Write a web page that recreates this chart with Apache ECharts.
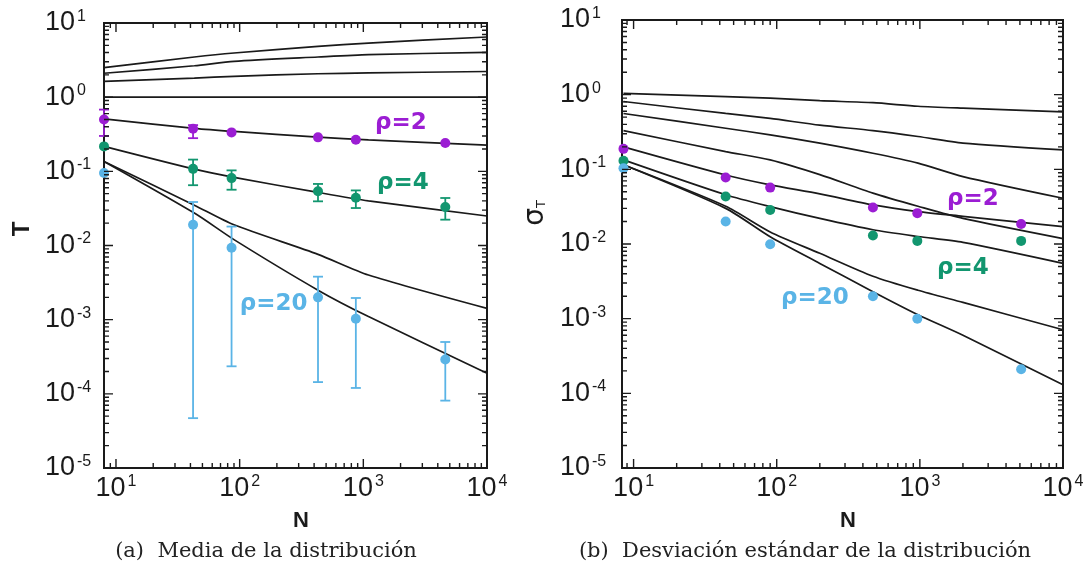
<!DOCTYPE html>
<html>
<head>
<meta charset="utf-8">
<script src="https://cdn.jsdelivr.net/npm/echarts@6.0.0/dist/echarts.min.js"></script>
<style>
  html, body { margin: 0; padding: 0; background: #fff; }
  #chart { width: 1089px; height: 571px; }
</style>
</head>
<body>
<div id="chart"></div>
<script>
// ---- (a) Media de la distribucion: T vs N ----
const nA = [8, 42, 86, 430, 870, 4600];
const meanRho2 = [0.50, 0.376, 0.335, 0.287, 0.267, 0.241];
const meanRho4 = [0.217, 0.108, 0.081, 0.054, 0.044, 0.033];
const meanRho20 = [0.095, 0.019, 0.0093, 0.0020, 0.00103, 0.00029];
// error bars (null = hidden under the dot)
const errLoRho2 = [0.30, 0.28, null, null, null, null];
const errHiRho2 = [0.68, 0.42, null, null, null, null];
const errLoRho4 = [null, 0.065, 0.0565, 0.0394, 0.032, 0.0223];
const errHiRho4 = [null, 0.144, 0.103, 0.0676, 0.0553, 0.0437];
const errLoRho20 = [null, 4.7e-5, 2.35e-4, 1.44e-4, 1.2e-4, 8.1e-5];
const errHiRho20 = [null, 0.0386, 0.018, 0.0038, 0.00196, 5.0e-4];
// theory curves (a)
const nCurveA = [8, 43, 90, 430, 1100, 10000];
const curvesA = [
  [2.5, 3.48, 3.94, 4.84, 5.37, 6.47],
  [2.1, 2.65, 3.04, 3.48, 3.74, 4.02],
  [1.63, 1.81, 1.91, 2.07, 2.12, 2.22],
  [1, 1, 1, 1, 1, 1],
  [0.51, 0.38, 0.345, 0.29, 0.265, 0.225],
  [0.217, 0.107, 0.083, 0.052, 0.040, 0.025],
  [0.136, 0.035, 0.019, 0.0076, 0.0040, 0.00142],
  [0.136, 0.0274, 0.012, 0.0025, 0.0011, 0.00019]
];

// ---- (b) Desviacion estandar: sigma_T vs N ----
const nB = [8.5, 44, 90, 470, 960, 5100];
const sdRho2 = [0.188, 0.0776, 0.0569, 0.0308, 0.0259, 0.0185];
const sdRho4 = [0.130, 0.0432, 0.0286, 0.0130, 0.0110, 0.0110];
const sdRho20 = [0.1035, 0.020, 0.0099, 0.0020, 0.0010, 0.00021];
const nCurveB = [8.5, 44, 90, 200, 470, 970, 2000, 10000];
const curvesB = [
  [1.04, 0.94, 0.90, 0.83, 0.78, 0.70, 0.66, 0.59],
  [0.81, 0.56, 0.48, 0.39, 0.33, 0.275, 0.224, 0.182],
  [0.56, 0.355, 0.29, 0.224, 0.164, 0.121, 0.080, 0.041],
  [0.33, 0.173, 0.134, 0.085, 0.048, 0.032, 0.022, 0.0118],
  [0.20, 0.084, 0.062, 0.047, 0.0334, 0.0272, 0.0235, 0.0171],
  [0.134, 0.0457, 0.0317, 0.022, 0.0155, 0.0126, 0.0105, 0.0055],
  [0.115, 0.032, 0.0145, 0.0075, 0.0037, 0.0024, 0.00165, 0.00071],
  [0.115, 0.030, 0.0125, 0.0055, 0.0023, 0.00113, 0.0006, 0.00013]
];

// annotation labels [text, N, value]
const notesA = [['ρ=2', 2010, 0.45], ['ρ=4', 2090, 0.070], ['ρ=20', 188, 0.00164]];
const notesB = [['ρ=2', 2345, 0.040], ['ρ=4', 2000, 0.0047], ['ρ=20', 185, 0.0019]];

const xRangeA = [8, 10000];
const xRangeB = [8.3, 10000];
const yRange = [1e-5, 10];

const PURPLE = '#9b1dd3';
const GREEN = '#12966f';
const BLUE = '#5ab4e6';
const INK = '#1a1a1a';

const gridA = { left: 104, top: 23, width: 383, height: 445 };
const gridB = { left: 622, top: 20, width: 441, height: 448 };

const chart = echarts.init(document.getElementById('chart'));

const isDecade = v => Math.abs(Math.log10(v) - Math.round(Math.log10(v))) < 1e-6;

function logTicks(lo, hi) {
  const out = [];
  for (let e = Math.floor(Math.log10(lo)); e <= Math.ceil(Math.log10(hi)); e++) {
    for (let m = 1; m < 10; m++) {
      const v = m * Math.pow(10, e);
      if (v > lo * 1.001 && v < hi * 0.999) out.push(v);
      else if (isDecade(v) && v >= lo * 0.999 && v <= hi * 1.001) out.push(v);
    }
  }
  return out;
}

const powLabel = v => isDecade(v) ? '{b|10}{s|' + Math.round(Math.log10(v)) + '}' : '';
const labelRich = {
  b: { fontSize: 27, fontFamily: 'Liberation Sans', color: INK },
  s: { fontSize: 16, fontFamily: 'Liberation Sans', color: INK, padding: [0, 0, 13, 2] }
};

// inward ticks on all four sides at true log positions (2..9 minors),
// drawn as one broken line series per panel; a tick's length in pixels
// is turned into a factor on the log scale of that axis
function tickLines(gi, xr, g) {
  const xDecPx = g.width / Math.log10(xr[1] / xr[0]);
  const yDecPx = g.height / Math.log10(yRange[1] / yRange[0]);
  const data = [];
  logTicks(xr[0], xr[1]).forEach(v => {
    const k = Math.pow(10, (isDecade(v) ? 9 : 5) / yDecPx);
    data.push([v, yRange[0]], [v, yRange[0] * k], [v, '-']);
    data.push([v, yRange[1]], [v, yRange[1] / k], [v, '-']);
  });
  logTicks(yRange[0], yRange[1]).forEach(v => {
    const k = Math.pow(10, (isDecade(v) ? 9 : 5) / xDecPx);
    data.push([xr[0], v], [xr[0] * k, v], ['-', v]);
    data.push([xr[1], v], [xr[1] / k, v], ['-', v]);
  });
  return {
    type: 'line', xAxisIndex: gi, yAxisIndex: gi, silent: true, z: 5, clip: false,
    symbol: 'none', connectNulls: false, smooth: false,
    lineStyle: { color: INK, width: 1.4 },
    data: data
  };
}

function errorSeries(gi, ns, lo, hi, color) {
  const data = [];
  ns.forEach((n, i) => { if (lo[i] != null) data.push([n, lo[i], hi[i]]); });
  return {
    type: 'custom', xAxisIndex: gi, yAxisIndex: gi, silent: true, z: 3, clip: false,
    data: data,
    encode: { x: 0, y: [1, 2] },
    renderItem(params, api) {
      const a = api.coord([api.value(0), api.value(1)]);
      const b = api.coord([api.value(0), api.value(2)]);
      const w = 5;
      const st = { stroke: color, lineWidth: 1.8 };
      return { type: 'group', children: [
        { type: 'line', shape: { x1: a[0], y1: a[1], x2: b[0], y2: b[1] }, style: st },
        { type: 'line', shape: { x1: a[0] - w, y1: a[1], x2: a[0] + w, y2: a[1] }, style: st },
        { type: 'line', shape: { x1: b[0] - w, y1: b[1], x2: b[0] + w, y2: b[1] }, style: st }
      ] };
    }
  };
}

function dotSeries(gi, ns, vals, color) {
  return {
    type: 'scatter', xAxisIndex: gi, yAxisIndex: gi, silent: true, z: 4, clip: false,
    symbolSize: 10, itemStyle: { color: color, opacity: 1 },
    data: ns.map((n, i) => [n, vals[i]])
  };
}

function curveSeries(gi, ns, vals) {
  return {
    type: 'line', xAxisIndex: gi, yAxisIndex: gi, silent: true, z: 2,
    symbol: 'none', smooth: 0.25,
    lineStyle: { color: INK, width: 1.7 },
    data: ns.map((n, i) => [n, vals[i]])
  };
}

function noteSeries(gi, notes) {
  const cols = [PURPLE, GREEN, BLUE];
  return {
    type: 'scatter', xAxisIndex: gi, yAxisIndex: gi, silent: true, z: 6,
    symbolSize: 0, itemStyle: { opacity: 1 },
    data: notes.map((d, i) => ({
      name: d[0], value: [d[1], d[2]],
      label: { color: cols[i] }
    })),
    label: {
      show: true, position: 'inside', formatter: '{b}', textBorderWidth: 0,
      fontFamily: 'DejaVu Sans', fontSize: 23, fontWeight: 'bold'
    }
  };
}

function xAxisCfg(gi, xr) {
  return {
    type: 'log', logBase: 10, gridIndex: gi, min: xr[0], max: xr[1],
    axisLine: { show: false }, axisTick: { show: false }, splitLine: { show: false },
    axisLabel: { formatter: powLabel, rich: labelRich, margin: 6 }
  };
}
function yAxisCfg(gi, margin) {
  return {
    type: 'log', logBase: 10, gridIndex: gi, min: yRange[0], max: yRange[1],
    axisLine: { show: false }, axisTick: { show: false }, splitLine: { show: false },
    axisLabel: { formatter: powLabel, rich: labelRich, margin: margin, align: 'left' }
  };
}

const series = [];
[[0, nCurveA, curvesA], [1, nCurveB, curvesB]].forEach(([gi, nc, cs]) => {
  cs.forEach(c => series.push(curveSeries(gi, nc, c)));
});
series.push(
  tickLines(0, xRangeA, gridA),
  tickLines(1, xRangeB, gridB),
  errorSeries(0, nA, errLoRho2, errHiRho2, PURPLE),
  errorSeries(0, nA, errLoRho4, errHiRho4, GREEN),
  errorSeries(0, nA, errLoRho20, errHiRho20, BLUE),
  dotSeries(0, nA, meanRho2, PURPLE),
  dotSeries(0, nA, meanRho4, GREEN),
  dotSeries(0, nA, meanRho20, BLUE),
  dotSeries(1, nB, sdRho2, PURPLE),
  dotSeries(1, nB, sdRho4, GREEN),
  dotSeries(1, nB, sdRho20, BLUE),
  noteSeries(0, notesA),
  noteSeries(1, notesB)
);

const titleFont = { fontFamily: 'Liberation Sans', fontWeight: 'bold', fill: INK };
const captionFont = { fontFamily: 'DejaVu Serif', fontSize: 21, fill: '#222' };
const frame = { show: true, borderColor: INK, borderWidth: 2, backgroundColor: 'transparent' };

chart.setOption({
  animation: false,
  backgroundColor: '#fff',
  grid: [Object.assign({}, gridA, frame), Object.assign({}, gridB, frame)],
  xAxis: [xAxisCfg(0, xRangeA), xAxisCfg(1, xRangeB)],
  yAxis: [yAxisCfg(0, 59), yAxisCfg(1, 62)],
  series: series,
  graphic: [
    { type: 'text', x: 22, y: 229, rotation: Math.PI / 2,
      style: Object.assign({ text: 'T', fontSize: 24, align: 'center', verticalAlign: 'middle' }, titleFont) },
    { type: 'text', x: 536, y: 213, rotation: Math.PI / 2,
      style: { text: '{a|σ}{b|T}', align: 'center', verticalAlign: 'middle',
        rich: { a: { fontFamily: 'DejaVu Sans', fontSize: 28, fill: INK }, b: { fontFamily: 'DejaVu Sans', fontSize: 13, fill: INK, padding: [12, 0, 0, 0] } } } },
    { type: 'text', x: 301, y: 521, style: Object.assign({ text: 'N', fontSize: 22, align: 'center', verticalAlign: 'middle' }, titleFont) },
    { type: 'text', x: 848, y: 521, style: Object.assign({ text: 'N', fontSize: 22, align: 'center', verticalAlign: 'middle' }, titleFont) },
    { type: 'text', x: 266, y: 552, style: Object.assign({ text: '(a)  Media de la distribución', align: 'center', verticalAlign: 'middle' }, captionFont) },
    { type: 'text', x: 805, y: 552, style: Object.assign({ text: '(b)  Desviación estándar de la distribución', align: 'center', verticalAlign: 'middle' }, captionFont) }
  ]
});
</script>
</body>
</html>
